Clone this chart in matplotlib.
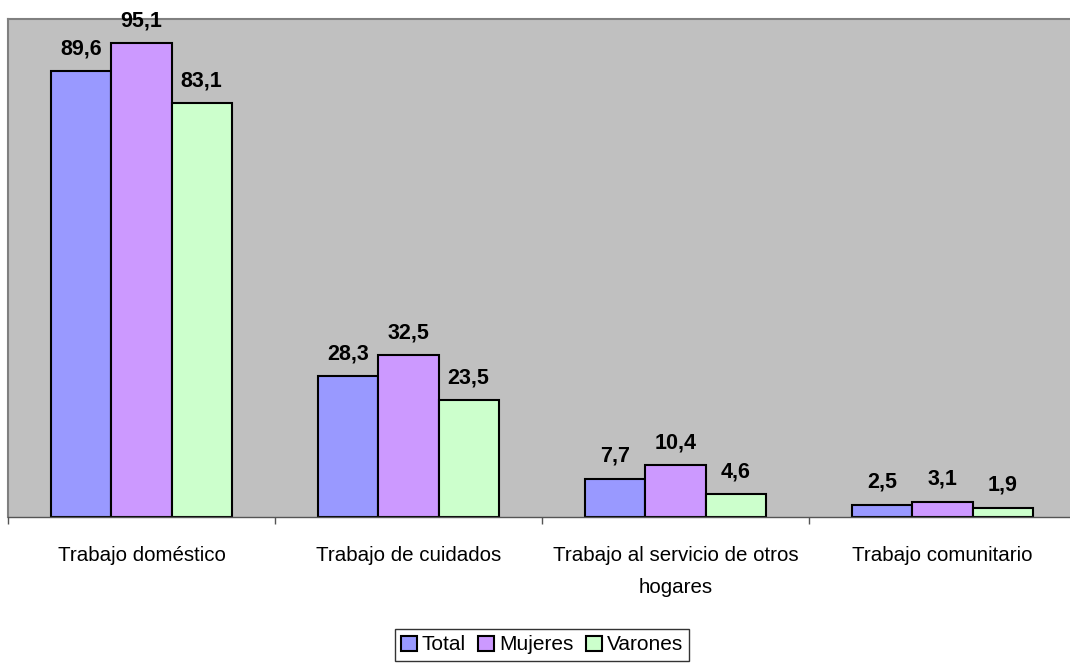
import matplotlib
matplotlib.use('Agg')
import matplotlib.pyplot as plt
import numpy as np

# Data
categories = ['Trabajo doméstico', 'Trabajo de cuidados',
              'Trabajo al servicio de otros\nhogares', 'Trabajo comunitario']
total = [89.6, 28.3, 7.7, 2.5]
mujeres = [95.1, 32.5, 10.4, 3.1]
varones = [83.1, 23.5, 4.6, 1.9]
series_names = ['Total', 'Mujeres', 'Varones']
colors = ['#9999FF', '#CC99FF', '#CCFFCC']

font = 'Liberation Sans'

fig = plt.figure(figsize=(10.7, 6.64), dpi=100)
ax = fig.add_axes([8/1070, 147/664, 1068/1070, 498/664])
ax.set_facecolor('#C0C0C0')

x = np.arange(len(categories))
w = 0.225
for k, (vals, name, c) in enumerate(zip([total, mujeres, varones], series_names, colors)):
    bars = ax.bar(x + (k - 1) * w, vals, w, color=c, edgecolor='black', linewidth=1.5, label=name)
    for b, v in zip(bars, vals):
        ax.annotate(f'{v:.1f}'.replace('.', ','), (b.get_x() + b.get_width() / 2, v),
                    xytext=(0, 12), textcoords='offset points', ha='center', va='baseline',
                    fontsize=15.5, fontweight='bold', family=font)

ax.set_xlim(-0.5, 3.5)
ax.set_ylim(0, 100)
ax.set_yticks([])
ax.set_xticks(np.arange(-0.5, 4, 1))
ax.set_xticklabels([])
ax.set_xticks(x, minor=True)
ax.set_xticklabels(categories, minor=True, fontsize=14.8, family=font, linespacing=1.85)
ax.tick_params(axis='x', which='major', length=5, width=1, color='#555555')
ax.tick_params(axis='x', which='minor', length=0, pad=21)
for s in ['top', 'left', 'right']:
    ax.spines[s].set_color('#808080')
    ax.spines[s].set_linewidth(1.5)
ax.spines['bottom'].set_color('#555555')
ax.spines['bottom'].set_linewidth(1)

leg = ax.legend(loc='center', bbox_to_anchor=(534/1068, -0.257), ncol=3, frameon=True,
                fancybox=False, edgecolor='black', handlelength=0.75, handleheight=0.75,
                handletextpad=0.25, columnspacing=0.6, borderpad=0.3,
                prop={'family': font, 'size': 15})
leg.get_frame().set_linewidth(1)

plt.savefig('out.png', dpi=100)
